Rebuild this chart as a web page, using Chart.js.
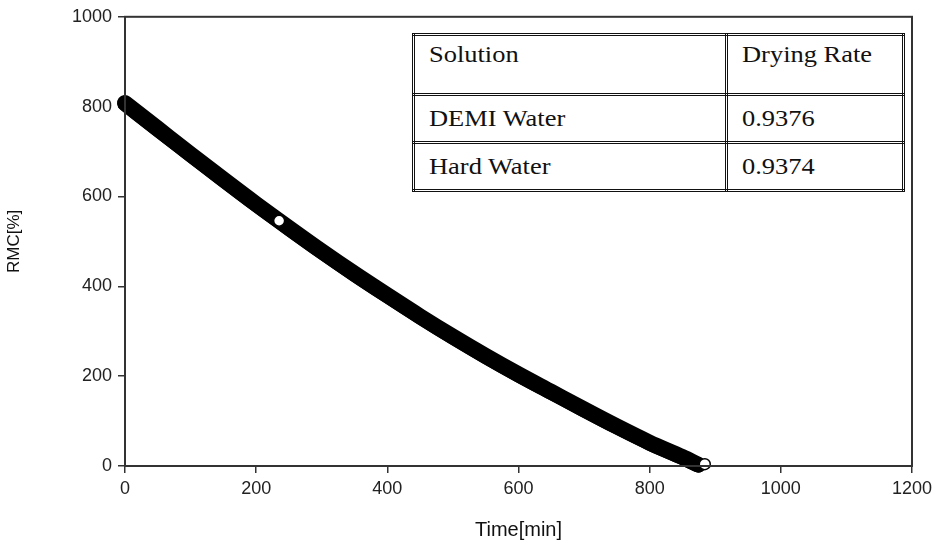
<!DOCTYPE html>
<html>
<head>
<meta charset="utf-8">
<script src="https://cdn.jsdelivr.net/npm/chart.js@4/dist/chart.umd.min.js"></script>
<style>
  html, body { margin: 0; padding: 0; background: #fff; }
  #wrap { position: relative; width: 938px; height: 546px; }
  #rateTable {
    position: absolute; left: 412px; top: 33px; width: 493px;
    border-collapse: collapse; font-family: "Liberation Serif", "Times New Roman", serif;
    font-size: 23px; color: #111; background: #fff;
  }
  #rateTable td {
    border: 3px double #111; padding: 0 0 0 14px; vertical-align: middle;
  }
  #rateTable td span { display: inline-block; transform: scaleX(1.15); transform-origin: left center; }
  #rateTable tr.head td { height: 51px; vertical-align: top; padding-top: 6px; }
  #rateTable tr.row td { height: 45px; }
</style>
</head>
<body>
<div id="wrap">
  <canvas id="chart" width="938" height="546"></canvas>
  <table id="rateTable"></table>
</div>
<script>
// time in minutes, RMC in %
const timeMin = [0, 50, 100, 150, 200, 250, 300, 350, 400, 450, 500, 550, 600, 650, 700, 750, 800, 850, 874];
const demiRmc = [808, 751, 694, 638, 583, 530, 478, 428, 380, 333, 288, 245, 204, 165, 126, 88, 52, 20, 3];
const hardRmc = [806, 749, 693, 637, 582, 529, 477, 427, 379, 332, 287, 244, 203, 164, 125, 87, 51, 19, 2];

// open circles sitting on the curve
const markTime = [235, 884];
const markRmc = [546, 4];

const xTicks = [0, 200, 400, 600, 800, 1000, 1200];
const yTicks = [0, 200, 400, 600, 800, 1000];

const solutions = ['DEMI Water', 'Hard Water'];
const dryingRates = ['0.9376', '0.9374'];

const table = document.getElementById('rateTable');
let html = '<tr class="head"><td style="width:296px"><span>Solution</span></td><td><span>Drying Rate</span></td></tr>';
for (let i = 0; i < solutions.length; i++) {
  html += `<tr class="row"><td><span>${solutions[i]}</span></td><td><span>${dryingRates[i]}</span></td></tr>`;
}
table.innerHTML = html;

const toPoints = (xs, ys) => xs.map((x, i) => ({ x: x, y: ys[i] }));

// box around the plot area
const frame = {
  id: 'frame',
  afterDraw(chart) {
    const { ctx, chartArea: a } = chart;
    ctx.save();
    ctx.strokeStyle = '#333';
    ctx.lineWidth = 2;
    ctx.strokeRect(a.left, a.top, a.right - a.left, a.bottom - a.top);
    ctx.restore();
  }
};

const tickFont = { family: 'Liberation Sans, Arial, sans-serif', size: 18 };

new Chart(document.getElementById('chart'), {
  type: 'line',
  data: {
    datasets: [
      {
        label: 'marks',
        data: toPoints(markTime, markRmc),
        showLine: false,
        order: 0,
        pointRadius: 5.5,
        pointBackgroundColor: '#fff',
        pointBorderColor: '#000',
        pointBorderWidth: 1.5,
        clip: false
      },
      {
        label: 'DEMI Water',
        data: toPoints(timeMin, demiRmc),
        order: 1,
        borderColor: '#000',
        borderWidth: 16,
        borderCapStyle: 'round',
        pointRadius: 0,
        cubicInterpolationMode: 'monotone',
        clip: false
      },
      {
        label: 'Hard Water',
        data: toPoints(timeMin, hardRmc),
        order: 2,
        borderColor: '#000',
        borderWidth: 15,
        borderCapStyle: 'round',
        pointRadius: 0,
        cubicInterpolationMode: 'monotone',
        clip: false
      }
    ]
  },
  options: {
    responsive: false,
    animation: false,
    layout: { padding: { top: 16, right: 26, left: 0, bottom: 0 } },
    plugins: { legend: { display: false }, tooltip: { enabled: false } },
    scales: {
      x: {
        type: 'linear',
        min: 0,
        max: 1200,
        afterBuildTicks: s => { s.ticks = xTicks.map(v => ({ value: v })); },
        afterFit: s => { s.height = 80; },
        ticks: { color: '#222', font: tickFont, padding: 5, callback: v => String(v) },
        grid: { drawOnChartArea: false, tickLength: 7, color: '#333', lineWidth: 1.5 },
        border: { color: '#333', width: 2 },
        title: { display: true, text: 'Time[min]', color: '#111', font: { family: 'Liberation Sans, Arial, sans-serif', size: 20 }, padding: { top: 12 } }
      },
      y: {
        min: 0,
        max: 1000,
        afterBuildTicks: s => { s.ticks = yTicks.map(v => ({ value: v })); },
        afterFit: s => { s.width = 125; },
        ticks: { color: '#222', font: tickFont, padding: 6, callback: v => String(v) },
        grid: { drawOnChartArea: false, tickLength: 7, color: '#333', lineWidth: 1.5 },
        border: { color: '#333', width: 2 },
        title: { display: true, text: 'RMC[%]', color: '#111', font: { family: 'Liberation Sans, Arial, sans-serif', size: 17 }, padding: { bottom: 0 } }
      }
    }
  },
  plugins: [frame]
});
</script>
</body>
</html>
